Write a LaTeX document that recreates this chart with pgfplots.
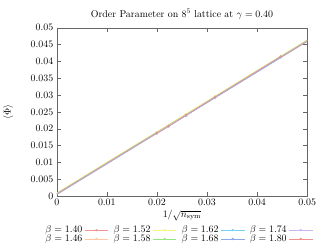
\documentclass[border=0pt]{standalone}
\usepackage{pgfplots}
\pgfplotsset{compat=1.18}
\definecolor{c1}{RGB}{238,150,150}
\definecolor{c2}{RGB}{255,200,160}
\definecolor{c3}{RGB}{250,242,130}
\definecolor{c4}{RGB}{150,230,130}
\definecolor{c5}{RGB}{120,210,245}
\definecolor{c6}{RGB}{140,170,235}
\definecolor{c7}{RGB}{205,180,240}
\definecolor{c8}{RGB}{238,145,140}
\begin{document}
\begin{tikzpicture}
\begin{axis}[
  scale only axis, width=253pt, height=170pt,
  xmin=0, xmax=0.05, ymin=0, ymax=0.05,
  xtick={0,0.01,0.02,0.03,0.04,0.05},
  ytick={0,0.005,0.01,0.015,0.02,0.025,0.03,0.035,0.04,0.045,0.05},
  scaled ticks=false,
  xticklabel style={/pgf/number format/fixed, /pgf/number format/precision=3},
  yticklabel style={/pgf/number format/fixed, /pgf/number format/precision=3},
  tick align=inside, axis line style={gray!80!black}, major tick style={gray!80!black},
  title={Order Parameter on $8^5$ lattice at $\gamma = 0.40$},
  title style={yshift=-1pt},
  xlabel={$1/\sqrt{n_{\mathrm{sym}}}$},
  xlabel style={yshift=3pt},
  ylabel={$\langle\Phi\rangle$},
  ylabel style={at={(axis description cs:-0.16,0.5)}},
  legend plot pos=right, transpose legend, legend columns=2,
  legend style={at={(0.485,-0.165)}, anchor=north, draw=none, fill=none,
    /tikz/every even column/.append style={column sep=3pt},
    inner sep=0pt, row sep=-3.5pt},
  legend image code/.code={\draw[mark repeat=2,mark phase=2] plot coordinates {(0cm,0cm) (0.42cm,0cm) (0.84cm,0cm)};},
  every axis plot/.append style={line width=0.6pt, mark=*, mark size=0.9pt},
]
% fit lines
\addplot[c1, no marks, forget plot] coordinates {(0,0.0007) (0.05,0.0461)};
\addplot[c2, no marks, forget plot] coordinates {(0,0.0008) (0.05,0.0462)};
\addplot[c3, no marks, forget plot] coordinates {(0,0.0009) (0.05,0.0464)};
\addplot[c4, no marks, forget plot] coordinates {(0,0.0008) (0.05,0.0463)};
\addplot[c5, no marks, forget plot] coordinates {(0,0.0005) (0.05,0.0460)};
\addplot[c6, no marks, forget plot] coordinates {(0,0.0004) (0.05,0.0459)};
\addplot[c7, no marks, forget plot] coordinates {(0,0.0006) (0.05,0.0461)};
\addplot[c8, no marks, forget plot] coordinates {(0,0.0006) (0.05,0.0460)};
% data points
\addplot[c1] coordinates {(0.0200,0.0188) (0.02236,0.0209) (0.02582,0.0241) (0.03162,0.0294) (0.04472,0.0414)};
\addlegendentry{$\beta = 1.40$}
\addplot[c2] coordinates {(0.0200,0.0189) (0.02236,0.0210) (0.02582,0.0242) (0.03162,0.0295) (0.04472,0.0415)};
\addlegendentry{$\beta = 1.46$}
\addplot[c3] coordinates {(0.0200,0.0189) (0.02236,0.0210) (0.02582,0.0242) (0.03162,0.0296) (0.04472,0.0416)};
\addlegendentry{$\beta = 1.52$}
\addplot[c4] coordinates {(0.0200,0.0188) (0.02236,0.0209) (0.02582,0.0241) (0.03162,0.0295) (0.04472,0.0415)};
\addlegendentry{$\beta = 1.58$}
\addplot[c5] coordinates {(0.0200,0.0187) (0.02236,0.0208) (0.02582,0.0240) (0.03162,0.0293) (0.04472,0.0413)};
\addlegendentry{$\beta = 1.62$}
\addplot[c6] coordinates {(0.0200,0.0186) (0.02236,0.0207) (0.02582,0.0239) (0.03162,0.0293) (0.04472,0.0412)};
\addlegendentry{$\beta = 1.68$}
\addplot[c7] coordinates {(0.0200,0.0187) (0.02236,0.0208) (0.02582,0.0240) (0.03162,0.0294) (0.04472,0.0414)};
\addlegendentry{$\beta = 1.74$}
\addplot[c8] coordinates {(0.0200,0.0187) (0.02236,0.0208) (0.02582,0.0240) (0.03162,0.0294) (0.04472,0.0414)};
\addlegendentry{$\beta = 1.80$}
\end{axis}
\path ([shift={(-54pt,-52pt)}]current axis.south west) rectangle ++(325pt,250pt);
\end{tikzpicture}
\end{document}
